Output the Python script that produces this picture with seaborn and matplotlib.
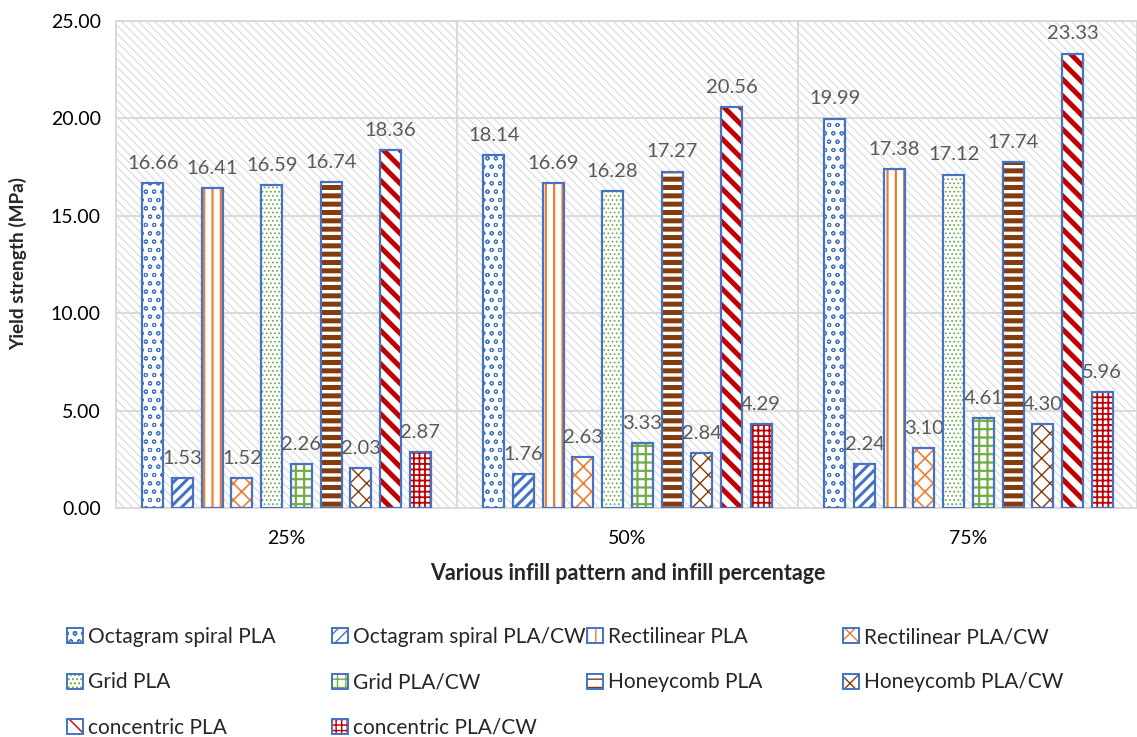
import matplotlib
matplotlib.use("Agg")
import matplotlib.pyplot as plt
import numpy as np
import pandas as pd
import seaborn as sns
from matplotlib.patches import Patch, Rectangle
from matplotlib.legend_handler import HandlerTuple
from matplotlib.ticker import FormatStrFormatter

# ---- data -------------------------------------------------------------
infill = ["25%", "50%", "75%"]
series = [
    "Octagram spiral PLA", "Octagram spiral PLA/CW",
    "Rectilinear PLA", "Rectilinear PLA/CW",
    "Grid PLA", "Grid PLA/CW",
    "Honeycomb PLA", "Honeycomb PLA/CW",
    "concentric PLA", "concentric PLA/CW",
]
octagram_pla = [16.66, 18.14, 19.99]
octagram_cw = [1.53, 1.76, 2.24]
rectilinear_pla = [16.41, 16.69, 17.38]
rectilinear_cw = [1.52, 2.63, 3.10]
grid_pla = [16.59, 16.28, 17.12]
grid_cw = [2.26, 3.33, 4.61]
honeycomb_pla = [16.74, 17.27, 17.74]
honeycomb_cw = [2.03, 2.84, 4.30]
concentric_pla = [18.36, 20.56, 23.33]
concentric_cw = [2.87, 4.29, 5.96]
y_ticks = [0, 5, 10, 15, 20, 25]

values = [octagram_pla, octagram_cw, rectilinear_pla, rectilinear_cw,
          grid_pla, grid_cw, honeycomb_pla, honeycomb_cw,
          concentric_pla, concentric_cw]

df = pd.DataFrame(
    [(s, g, v) for s, vals in zip(series, values) for g, v in zip(infill, vals)],
    columns=["series", "infill", "strength"],
)

# ---- styling ----------------------------------------------------------
BLUE = "#4472C4"
ORANGE = "#ED7D31"
GREEN = "#70AD47"
BROWN = "#843C0C"
RED = "#C00000"
GRID = "#D9D9D9"

# (pattern colour, hatch, hatch line width)
fills = [
    (BLUE, "oo", 0.7),
    (BLUE, "///", 2.2),
    (ORANGE, "||", 1.6),
    (ORANGE, "xx", 1.2),
    (GREEN, "....", 0.8),
    (GREEN, "++", 1.6),
    (BROWN, "--", 3.6),
    (BROWN, "xx", 1.0),
    (RED, "\\\\", 3.6),
    (RED, "+++", 1.3),
]

sns.set_theme(style="white")
plt.rcParams["font.family"] = ["Lato", "DejaVu Sans"]


def set_hatch_lw(p, lw):
    if hasattr(p, "set_hatch_linewidth"):
        p.set_hatch_linewidth(lw)
    else:
        p._hatch_linewidth = lw


fig = plt.figure(figsize=(11.37, 7.37), dpi=100)
W, H = 1137.0, 737.0
ax = fig.add_axes([116 / W, 1 - 508 / H, (1137 - 116) / W, (508 - 21) / H])

sns.barplot(
    data=df, x="infill", y="strength", hue="series",
    order=infill, hue_order=series,
    palette={s: "white" for s in series},
    width=0.871, gap=0.29, errorbar=None, legend=False, ax=ax,
)

for cont, (col, hatch, hlw) in zip(ax.containers, fills):
    for bar in cont:
        bar.set_facecolor("white")
        bar.set_edgecolor(col)
        bar.set_linewidth(0)
        bar.set_hatch(hatch)
        set_hatch_lw(bar, hlw)
        bar.set_zorder(2)
        ax.add_patch(Rectangle(bar.get_xy(), bar.get_width(), bar.get_height(),
                               fill=False, edgecolor=BLUE, linewidth=1.6, zorder=3))
    ax.bar_label(cont, fmt="%.2f", padding=8, color="#595959", fontsize=14.5)

# hatched plot-area background
ax.patch.set_facecolor("white")
ax.patch.set_edgecolor(GRID)
ax.patch.set_hatch("\\\\\\\\")
set_hatch_lw(ax.patch, 0.8)

ax.set_xlim(-0.5, -0.5 + (1137 - 116) / 341.0)
ax.set_ylim(0, 25)
ax.set_yticks(y_ticks)
ax.yaxis.set_major_formatter(FormatStrFormatter("%.2f"))
ax.set_xticks([0.5, 1.5], minor=True)
ax.set_axisbelow(True)
ax.yaxis.grid(True, color=GRID, linewidth=1.4)
ax.xaxis.grid(True, which="minor", color=GRID, linewidth=1.4)
ax.xaxis.grid(False, which="major")
for sp in ax.spines.values():
    sp.set_visible(True)
    sp.set_color(GRID)
    sp.set_linewidth(1.4)
ax.tick_params(axis="both", which="both", length=0, labelsize=14, labelcolor="#000000")
ax.tick_params(axis="x", pad=16)
ax.tick_params(axis="y", pad=11)
ax.set_xlabel("")
ax.set_ylabel("")

fig.text(628 / W, 1 - 573 / H, "Various infill pattern and infill percentage",
         ha="center", va="center", fontsize=15.5, fontweight="bold")
fig.text(18 / W, 1 - 264 / H, "Yield strength (MPa)", rotation=90,
         ha="center", va="center", fontsize=13.7, fontweight="bold")

# ---- legend: four columns, filled row by row --------------------------
handles = [
    (Patch(facecolor="white", edgecolor=col, linewidth=0, hatch=hatch),
     Patch(facecolor="none", edgecolor=BLUE, linewidth=1.4))
    for col, hatch, _ in fills
]
for (h, _), (_, _, hlw) in zip(handles, fills):
    set_hatch_lw(h, min(hlw, 1.6))

col_x = [67, 332, 587, 843]
for c, x in enumerate(col_x):
    idx = list(range(c, len(series), 4))
    fig.legend(
        [handles[i] for i in idx], [series[i] for i in idx],
        loc="upper left", bbox_to_anchor=(x / W, 1 - 627 / H),
        frameon=False, fontsize=15, borderpad=0, borderaxespad=0,
        handlelength=0.75, handleheight=0.75, handletextpad=0.25,
        labelspacing=1.22,
        handler_map={tuple: HandlerTuple(ndivide=1, pad=0)},
    )

fig.savefig("out.png", dpi=100)
